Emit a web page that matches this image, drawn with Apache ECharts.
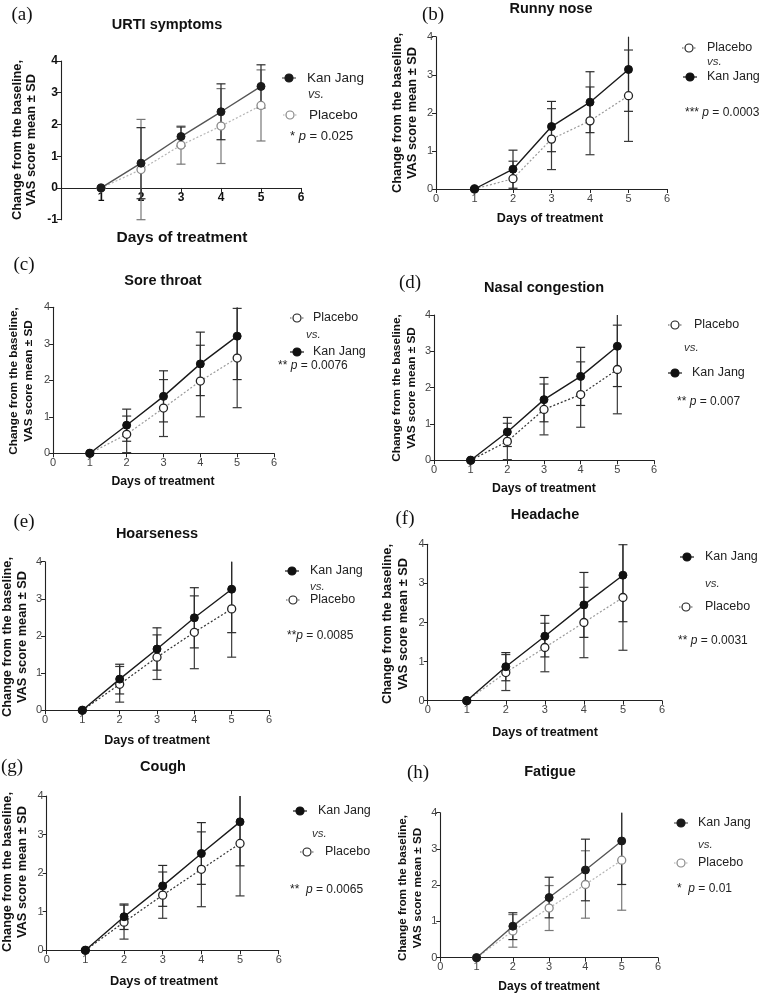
<!DOCTYPE html>
<html>
<head>
<meta charset="utf-8">
<script src="https://cdn.jsdelivr.net/npm/echarts@6/dist/echarts.min.js"></script>
<style>
html, body { margin: 0; padding: 0; background: #fff; }
#chart { width: 765px; height: 998px; }
</style>
</head>
<body>
<div id="chart"></div>
<script>
// days on the x axis
const days = [1, 2, 3, 4, 5];
const xTicks = [0, 1, 2, 3, 4, 5, 6];

// (a) URTI symptoms
const urtiKJ = [0, 0.78, 1.62, 2.4, 3.2];
const urtiKJsd = [0, 1.12, 0.3, 0.88, 0.68];
const urtiPL = [0, 0.58, 1.35, 1.95, 2.6];
const urtiPLsd = [0, 1.58, 0.6, 1.18, 1.12];
// (b) Runny nose
const runnyKJ = [0, 0.52, 1.64, 2.28, 3.14];
const runnyKJsd = [0, 0.5, 0.66, 0.8, 1.1];
const runnyPL = [0, 0.27, 1.31, 1.79, 2.45];
const runnyPLsd = [0, 0.46, 0.8, 0.89, 1.2];
// (c) Sore throat
const soreKJ = [0, 0.77, 1.56, 2.45, 3.21];
const soreKJsd = [0, 0.44, 0.7, 0.87, 1.19];
const sorePL = [0, 0.52, 1.24, 1.98, 2.61];
const sorePLsd = [0, 0.5, 0.78, 0.98, 1.36];
// (d) Nasal congestion
const nasalKJ = [0, 0.78, 1.67, 2.31, 3.14];
const nasalKJsd = [0, 0.4, 0.61, 0.8, 1.11];
const nasalPL = [0, 0.52, 1.4, 1.81, 2.5];
const nasalPLsd = [0, 0.5, 0.7, 0.9, 1.22];
// (e) Hoarseness
const hoarseKJ = [0, 0.84, 1.65, 2.49, 3.26];
const hoarseKJsd = [0, 0.4, 0.57, 0.81, 1.17];
const hoarsePL = [0, 0.7, 1.43, 2.1, 2.73];
const hoarsePLsd = [0, 0.48, 0.6, 0.98, 1.3];
// (f) Headache
const headKJ = [0, 0.87, 1.65, 2.45, 3.21];
const headKJsd = [0, 0.36, 0.53, 0.83, 1.19];
const headPL = [0, 0.72, 1.36, 2.0, 2.64];
const headPLsd = [0, 0.46, 0.62, 0.9, 1.35];
// (g) Cough
const coughKJ = [0, 0.87, 1.67, 2.51, 3.33];
const coughKJsd = [0, 0.33, 0.53, 0.8, 1.14];
const coughPL = [0, 0.73, 1.43, 2.1, 2.77];
const coughPLsd = [0, 0.44, 0.6, 0.97, 1.36];
// (h) Fatigue
const fatKJ = [0, 0.87, 1.66, 2.42, 3.22];
const fatKJsd = [0, 0.37, 0.56, 0.85, 1.2];
const fatPL = [0, 0.74, 1.37, 2.02, 2.69];
const fatPLsd = [0, 0.45, 0.62, 0.93, 1.38];

const FONT = '"Liberation Sans", Arial, sans-serif';
const SERIF = '"Liberation Serif", "Times New Roman", serif';

const grey = { kjLine: '#555', kjMark: '#1a1a1a', kjErr: '#2a2a2a', plLine: '#b5b5b5', plMark: '#888', plErr: '#777' };
const black = { kjLine: '#1a1a1a', kjMark: '#111', kjErr: '#2a2a2a', plLine: '#9a9a9a', plMark: '#222', plErr: '#3a3a3a' };
const blackDark = Object.assign({}, black, { plLine: '#333' });

// layout of each panel (pixels)
const panels = [
  { tag: '(a)', title: 'URTI symptoms', kj: urtiKJ, kjSd: urtiKJsd, pl: urtiPL, plSd: urtiPLsd,
    p: '* {i|p} = 0.025', yMin: -1, c: grey, bold: true,
    grid: { left: 61, top: 61, width: 240, height: 158.7 },
    tagAt: [22, 15], titleAt: [167, 25], yT: [17, 31, 140, 12.8], xT: [182, 238, 15.5],
    first: 'kj', k1: [289, 78, 307], vs: [308, 95], k2: [290, 115, 309], pAt: [290, 136], ls: 13.5 },
  { tag: '(b)', title: 'Runny nose', kj: runnyKJ, kjSd: runnyKJsd, pl: runnyPL, plSd: runnyPLsd,
    p: '*** {i|p} = 0.0003', yMin: 0, c: black,
    grid: { left: 436, top: 36.7, width: 231, height: 152.3 },
    tagAt: [433, 15], titleAt: [551, 9], yT: [397, 412, 113, 12.8], xT: [550, 219, 12.6],
    first: 'pl', k1: [689, 48, 707], vs: [707, 62], k2: [690, 77, 707], pAt: [685, 113], ls: 12.5 },
  { tag: '(c)', title: 'Sore throat', kj: soreKJ, kjSd: soreKJsd, pl: sorePL, plSd: sorePLsd,
    p: '** {i|p} = 0.0076', yMin: 0, c: black,
    grid: { left: 53, top: 307.3, width: 221, height: 146 },
    tagAt: [24, 265], titleAt: [163, 281], yT: [14, 29, 381, 11.8], xT: [163, 482, 12.2],
    first: 'pl', k1: [297, 318, 313], vs: [306, 335], k2: [297, 352, 313], pAt: [278, 366], ls: 12.5 },
  { tag: '(d)', title: 'Nasal congestion', kj: nasalKJ, kjSd: nasalKJsd, pl: nasalPL, plSd: nasalPLsd,
    p: '** {i|p} = 0.007', yMin: 0, c: blackDark,
    grid: { left: 434, top: 315, width: 220, height: 145.3 },
    tagAt: [410, 283], titleAt: [544, 288], yT: [397, 412, 388, 11.8], xT: [544, 489, 12.3],
    first: 'pl', k1: [675, 325, 694], vs: [684, 348], k2: [675, 373, 692], pAt: [677, 402], ls: 12.5 },
  { tag: '(e)', title: 'Hoarseness', kj: hoarseKJ, kjSd: hoarseKJsd, pl: hoarsePL, plSd: hoarsePLsd,
    p: '**{i|p} = 0.0085', yMin: 0, c: blackDark,
    grid: { left: 45, top: 561.7, width: 224, height: 148.6 },
    tagAt: [24, 522], titleAt: [157, 534], yT: [7, 22, 637, 12.8], xT: [157, 741, 12.5],
    first: 'kj', k1: [292, 571, 310], vs: [310, 587], k2: [293, 600, 310], pAt: [287, 636], ls: 12.5 },
  { tag: '(f)', title: 'Headache', kj: headKJ, kjSd: headKJsd, pl: headPL, plSd: headPLsd,
    p: '** {i|p} = 0.0031', yMin: 0, c: black,
    grid: { left: 427.7, top: 544.3, width: 234.3, height: 156.4 },
    tagAt: [405, 519], titleAt: [545, 515], yT: [387, 403, 624, 12.8], xT: [545, 733, 12.5],
    first: 'kj', k1: [687, 557, 705], vs: [705, 584], k2: [686, 607, 705], pAt: [678, 641], ls: 12.5 },
  { tag: '(g)', title: 'Cough', kj: coughKJ, kjSd: coughKJsd, pl: coughPL, plSd: coughPLsd,
    p: '**  {i|p} = 0.0065', yMin: 0, c: blackDark,
    grid: { left: 46.7, top: 796, width: 232, height: 154.3 },
    tagAt: [12, 767], titleAt: [163, 767], yT: [7, 22, 872, 12.8], xT: [164, 981, 12.8],
    first: 'kj', k1: [300, 811, 318], vs: [312, 834], k2: [307, 852, 325], pAt: [290, 890], ls: 12.5 },
  { tag: '(h)', title: 'Fatigue', kj: fatKJ, kjSd: fatKJsd, pl: fatPL, plSd: fatPLsd,
    p: '*  {i|p} = 0.01', yMin: 0, c: grey,
    grid: { left: 440.3, top: 812.7, width: 217.7, height: 145 },
    tagAt: [418, 773], titleAt: [550, 772], yT: [403, 418, 888, 11.7], xT: [549, 987, 12],
    first: 'kj', k1: [681, 823, 698], vs: [698, 845], k2: [681, 863, 698], pAt: [677, 889], ls: 12.5 }
];

const grids = [], xAxes = [], yAxes = [], series = [], graphics = [];

function txt(x, y, text, style, extra) {
  graphics.push(Object.assign({
    type: 'text', x: x, y: y, silent: true,
    style: Object.assign({ text: text, fontSize: 12, fontFamily: FONT, fill: '#1a1a1a',
      textAlign: 'left', textVerticalAlign: 'middle' }, style)
  }, extra || {}));
}

function key(cx, cy, filled, lineColor, markColor) {
  graphics.push({ type: 'line', silent: true, shape: { x1: cx - 7, y1: cy, x2: cx + 7, y2: cy },
    style: { stroke: lineColor, lineWidth: 1.2, lineDash: filled ? null : [1.5, 1.5] } });
  graphics.push({ type: 'circle', silent: true, shape: { cx: cx, cy: cy, r: 4 },
    style: { fill: filled ? markColor : '#fff', stroke: markColor, lineWidth: 1.2 } });
}

function errSeries(i, mean, sd, yMin, yMax, color, z) {
  return {
    type: 'custom', xAxisIndex: i, yAxisIndex: i, z: z, silent: true,
    encode: { x: 0, y: 1 },
    data: days.map((d, j) => [d, mean[j], sd[j]]),
    renderItem: function (params, api) {
      const x = api.value(0), m = api.value(1), s = api.value(2);
      if (!s) return;
      const hi = m + s, lo = m - s;
      const top = api.coord([x, Math.min(hi, yMax)]);
      const bot = api.coord([x, Math.max(lo, yMin)]);
      const st = { stroke: color, lineWidth: 1.2 };
      const ch = [{ type: 'line', shape: { x1: top[0], y1: top[1], x2: bot[0], y2: bot[1] }, style: st }];
      if (hi <= yMax) ch.push({ type: 'line', shape: { x1: top[0] - 4.5, y1: top[1], x2: top[0] + 4.5, y2: top[1] }, style: st });
      if (lo >= yMin) ch.push({ type: 'line', shape: { x1: bot[0] - 4.5, y1: bot[1], x2: bot[0] + 4.5, y2: bot[1] }, style: st });
      return { type: 'group', children: ch };
    }
  };
}

panels.forEach((pn, i) => {
  const c = pn.c;
  const yMax = 4;
  grids.push(pn.grid);
  const labelStyle = pn.bold
    ? { fontSize: 12, fontWeight: 'bold', color: '#111', fontFamily: FONT }
    : { fontSize: 11, color: '#444', fontFamily: FONT };
  const lineSt = { color: '#222', width: 1.1 };
  // x axis sits on y = 0; move it up when the y range goes below zero
  const zeroShift = pn.grid.height * (0 - pn.yMin) / (yMax - pn.yMin);
  xAxes.push({
    gridIndex: i, type: 'value', min: xTicks[0], max: xTicks[xTicks.length - 1], interval: 1,
    offset: -zeroShift,
    axisLine: { show: true, onZero: false, lineStyle: lineSt },
    axisTick: { show: true, length: 4, lineStyle: { color: '#222' } },
    splitLine: { show: false },
    axisLabel: Object.assign({ margin: 4, formatter: v => (pn.bold && v === 0 ? '' : String(v)) }, labelStyle)
  });
  yAxes.push({
    gridIndex: i, type: 'value', min: pn.yMin, max: yMax, interval: 1,
    axisLine: { show: true, onZero: false, lineStyle: lineSt },
    axisTick: { show: true, length: 4, lineStyle: { color: '#222' } },
    splitLine: { show: false },
    axisLabel: Object.assign({ margin: 3 }, labelStyle)
  });

  series.push(errSeries(i, pn.pl, pn.plSd, pn.yMin, yMax, c.plErr, 2));
  series.push(errSeries(i, pn.kj, pn.kjSd, pn.yMin, yMax, c.kjErr, 2));
  series.push({
    name: 'Placebo', type: 'line', xAxisIndex: i, yAxisIndex: i, z: 3, silent: true,
    data: days.map((d, j) => [d, pn.pl[j]]),
    symbol: 'circle', symbolSize: 8,
    lineStyle: { color: c.plLine, width: 1.2, type: [2, 2] },
    itemStyle: { color: '#fff', borderColor: c.plMark, borderWidth: 1.3 }
  });
  series.push({
    name: 'Kan Jang', type: 'line', xAxisIndex: i, yAxisIndex: i, z: 4, silent: true,
    data: days.map((d, j) => [d, pn.kj[j]]),
    symbol: 'circle', symbolSize: 8,
    lineStyle: { color: c.kjLine, width: 1.4 },
    itemStyle: { color: c.kjMark, borderColor: c.kjMark, borderWidth: 1 }
  });

  // texts
  txt(pn.tagAt[0], pn.tagAt[1], pn.tag, { fontSize: 19, fontFamily: SERIF, textAlign: 'center', fill: '#111' });
  txt(pn.titleAt[0], pn.titleAt[1], pn.title, { fontSize: 14.5, fontWeight: 'bold', textAlign: 'center', fill: '#111' });
  txt(pn.yT[0], pn.yT[2], 'Change from the baseline,', { fontSize: pn.yT[3], fontWeight: 'bold', textAlign: 'center', fill: '#111' }, { rotation: Math.PI / 2 });
  txt(pn.yT[1], pn.yT[2], 'VAS score mean \u00b1 SD', { fontSize: pn.yT[3], fontWeight: 'bold', textAlign: 'center', fill: '#111' }, { rotation: Math.PI / 2 });
  txt(pn.xT[0], pn.xT[1], 'Days of treatment', { fontSize: pn.xT[2], fontWeight: 'bold', textAlign: 'center', fill: '#111' });

  // legend
  const entries = pn.first === 'kj'
    ? [['Kan Jang', true, c.kjLine, c.kjMark], ['Placebo', false, c.plLine, c.plMark]]
    : [['Placebo', false, c.plLine, c.plMark], ['Kan Jang', true, c.kjLine, c.kjMark]];
  [pn.k1, pn.k2].forEach((k, j) => {
    const e = entries[j];
    key(k[0], k[1], e[1], e[1] ? e[2] : (c === grey ? '#aaa' : '#555'), e[3]);
    txt(k[2], k[1], e[0], { fontSize: pn.ls, fill: '#222' });
  });
  txt(pn.vs[0], pn.vs[1], 'vs.', { fontSize: pn.ls - 1, fontStyle: 'italic', fill: '#333' });
  txt(pn.pAt[0], pn.pAt[1], pn.p, {
    fontSize: pn.ls - 0.5, fill: '#222',
    rich: { i: { fontStyle: 'italic', fontSize: pn.ls - 0.5, fontFamily: FONT, fill: '#222' } }
  });
});

const chart = echarts.init(document.getElementById('chart'));
chart.setOption({
  animation: false,
  backgroundColor: '#fff',
  grid: grids,
  xAxis: xAxes,
  yAxis: yAxes,
  series: series,
  graphic: graphics
});
</script>
</body>
</html>
